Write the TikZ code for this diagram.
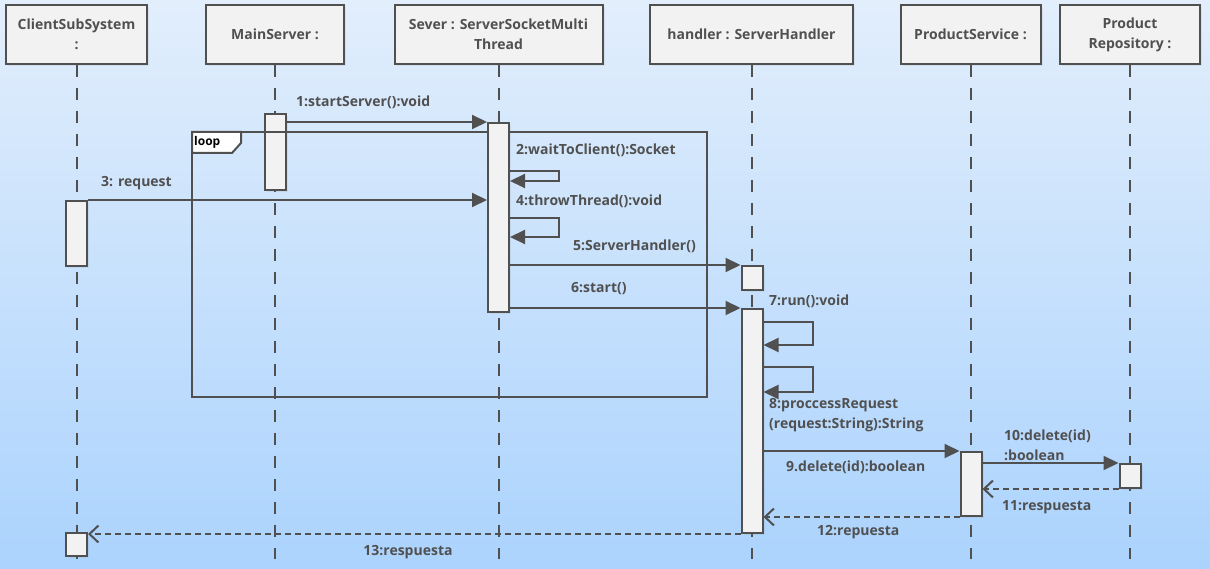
\documentclass[tikz,border=0pt]{standalone}
\usepackage{fontspec}
\setmainfont{Open Sans}
\usetikzlibrary{arrows.meta,shadows}

\definecolor{linegray}{RGB}{80,80,80}
\definecolor{boxfill}{RGB}{242,242,242}
\definecolor{bgtop}{RGB}{226,238,252}
\definecolor{bgbottom}{RGB}{171,211,253}

\begin{document}
\begin{tikzpicture}[x=1pt,y=-1pt,
    font=\fontsize{14}{20}\selectfont\bfseries,
    object/.style ={rectangle, draw=linegray, line width=2pt, fill=boxfill,
      minimum height=59pt, align=center, text=linegray,
      drop shadow={opacity=0.12, shadow xshift=2pt, shadow yshift=-2pt}},
    lifeline/.style ={linegray, line width=2pt, dash pattern=on 12pt off 11pt},
    activation/.style ={rectangle, draw=linegray, line width=2pt, fill=boxfill,
      minimum width=21pt, inner sep=0pt, anchor=north,
      drop shadow={opacity=0.12, shadow xshift=2pt, shadow yshift=-2pt}},
    call/.style ={linegray, line width=2pt, -{Triangle[length=15pt,width=14pt]}},
    reply/.style ={linegray, line width=2pt, dash pattern=on 6pt off 4pt,
      -{Straight Barb[length=9pt,width=17pt]}},
    msg/.style ={text=linegray, inner sep=0pt, align=left}]

   % background
   \fill[top color=bgtop, bottom color=bgbottom] (0,0) rectangle (1210,569);

   % objects
   \node[object, minimum width=141pt] (client)  at (76.5,34.5)  {ClientSubSystem\\:};
   \node[object, minimum width=138pt] (main)    at (275,34.5)   {MainServer :};
   \node[object, minimum width=208pt] (sever)   at (498.5,34.5) {Sever : ServerSocketMulti\\Thread};
   \node[object, minimum width=203pt] (handler) at (751.5,34.5) {handler : ServerHandler};
   \node[object, minimum width=140pt] (service) at (970.5,34.5) {ProductService :};
   \node[object, minimum width=140pt] (repo)    at (1130,34.5)  {Product\\Repository :};

   % lifelines
   \foreach \obj in {client,main,sever,handler,service,repo}
     \draw[lifeline] (\obj.south) -- ++(0,494);

   % activations
   \node[activation, minimum height=76pt]  (mainbar)    at (275,113)    {};

   % loop frame
   \draw[linegray, line width=2pt] (192,132) rectangle (706.5,397);
   \draw[linegray, line width=2pt, fill=white] (192,132) -- (241,132) -- (241,143)
     -- (232,153) -- (192,153) -- cycle;
   \node[anchor=west, inner sep=0pt, font=\fontsize{12}{14}\selectfont\bfseries]
     (looplabel) at (194,142) {loop};

   \node[activation, minimum height=189pt] (severbar)   at (498.5,122)  {};
   \node[activation, minimum height=65pt]  (clientbar)  at (76.5,200)   {};
   \node[activation, minimum height=23pt]  (clientend)  at (76.5,532)   {};
   \node[activation, minimum height=24pt]  (handlernew) at (752,265)    {};
   \node[activation, minimum height=224pt] (handlerbar) at (752,308)    {};
   \node[activation, minimum height=64pt]  (servicebar) at (971,451)    {};
   \node[activation, minimum height=24pt]  (repobar)    at (1130,463)   {};

   % messages
   \draw[call] (mainbar.east |- severbar.north) -- (severbar.north west);
   \draw[call] ([yshift=-49pt]severbar.north east) -- ++(49,0) -- ++(0,10)
     -- ([yshift=-59pt]severbar.north east);
   \draw[call] (clientbar.north east) -- (clientbar.north east -| severbar.west);
   \draw[call] ([yshift=-96pt]severbar.north east) -- ++(49,0) -- ++(0,19)
     -- ([yshift=-115pt]severbar.north east);
   \draw[call] (severbar.east |- handlernew.north) -- (handlernew.north west);
   \draw[call] (severbar.east |- handlerbar.north) -- (handlerbar.north west);
   \draw[call] ([yshift=-14pt]handlerbar.north east) -- ++(49,0) -- ++(0,23)
     -- ([yshift=-37pt]handlerbar.north east);
   \draw[call] ([yshift=-59pt]handlerbar.north east) -- ++(49,0) -- ++(0,25)
     -- ([yshift=-84pt]handlerbar.north east);
   \draw[call] (handlerbar.east |- servicebar.north) -- (servicebar.north west);
   \draw[call] (servicebar.east |- repobar.north) -- (repobar.north west);
   \draw[reply] (repobar.south west) -- (repobar.south west -| servicebar.east);
   \draw[reply] (servicebar.south west) -- (servicebar.south west -| handlerbar.east);
   \draw[reply] (handlerbar.south west) -- (handlerbar.south west -| clientend.east);

   % labels
   \node[msg, anchor=west] (m1)  at (296,102)  {1:startServer():void};
   \node[msg, anchor=west] (m2)  at (516,150)  {2:waitToClient():Socket};
   \node[msg, anchor=west] (m3)  at (101,183)  {3: request};
   \node[msg, anchor=west] (m4)  at (516,201)  {4:throwThread():void};
   \node[msg, anchor=west] (m5)  at (573,246)  {5:ServerHandler()};
   \node[msg, anchor=west] (m6)  at (571,289)  {6:start()};
   \node[msg, anchor=west] (m7)  at (769,301)  {7:run():void};
   \node[msg, anchor=west] (m8)  at (769,415)  {8:proccessRequest\\(request:String):String};
   \node[msg, anchor=west] (m9)  at (786,467)  {9.delete(id):boolean};
   \node[msg, anchor=west] (m10) at (1004,445) {10:delete(id)\\:boolean};
   \node[msg, anchor=west] (m11) at (1002,507) {11:respuesta};
   \node[msg, anchor=west] (m12) at (817,532)  {12:repuesta};
   \node[msg]              (m13) at (408,552)  {13:respuesta};
 \end{tikzpicture}
\end{document}
